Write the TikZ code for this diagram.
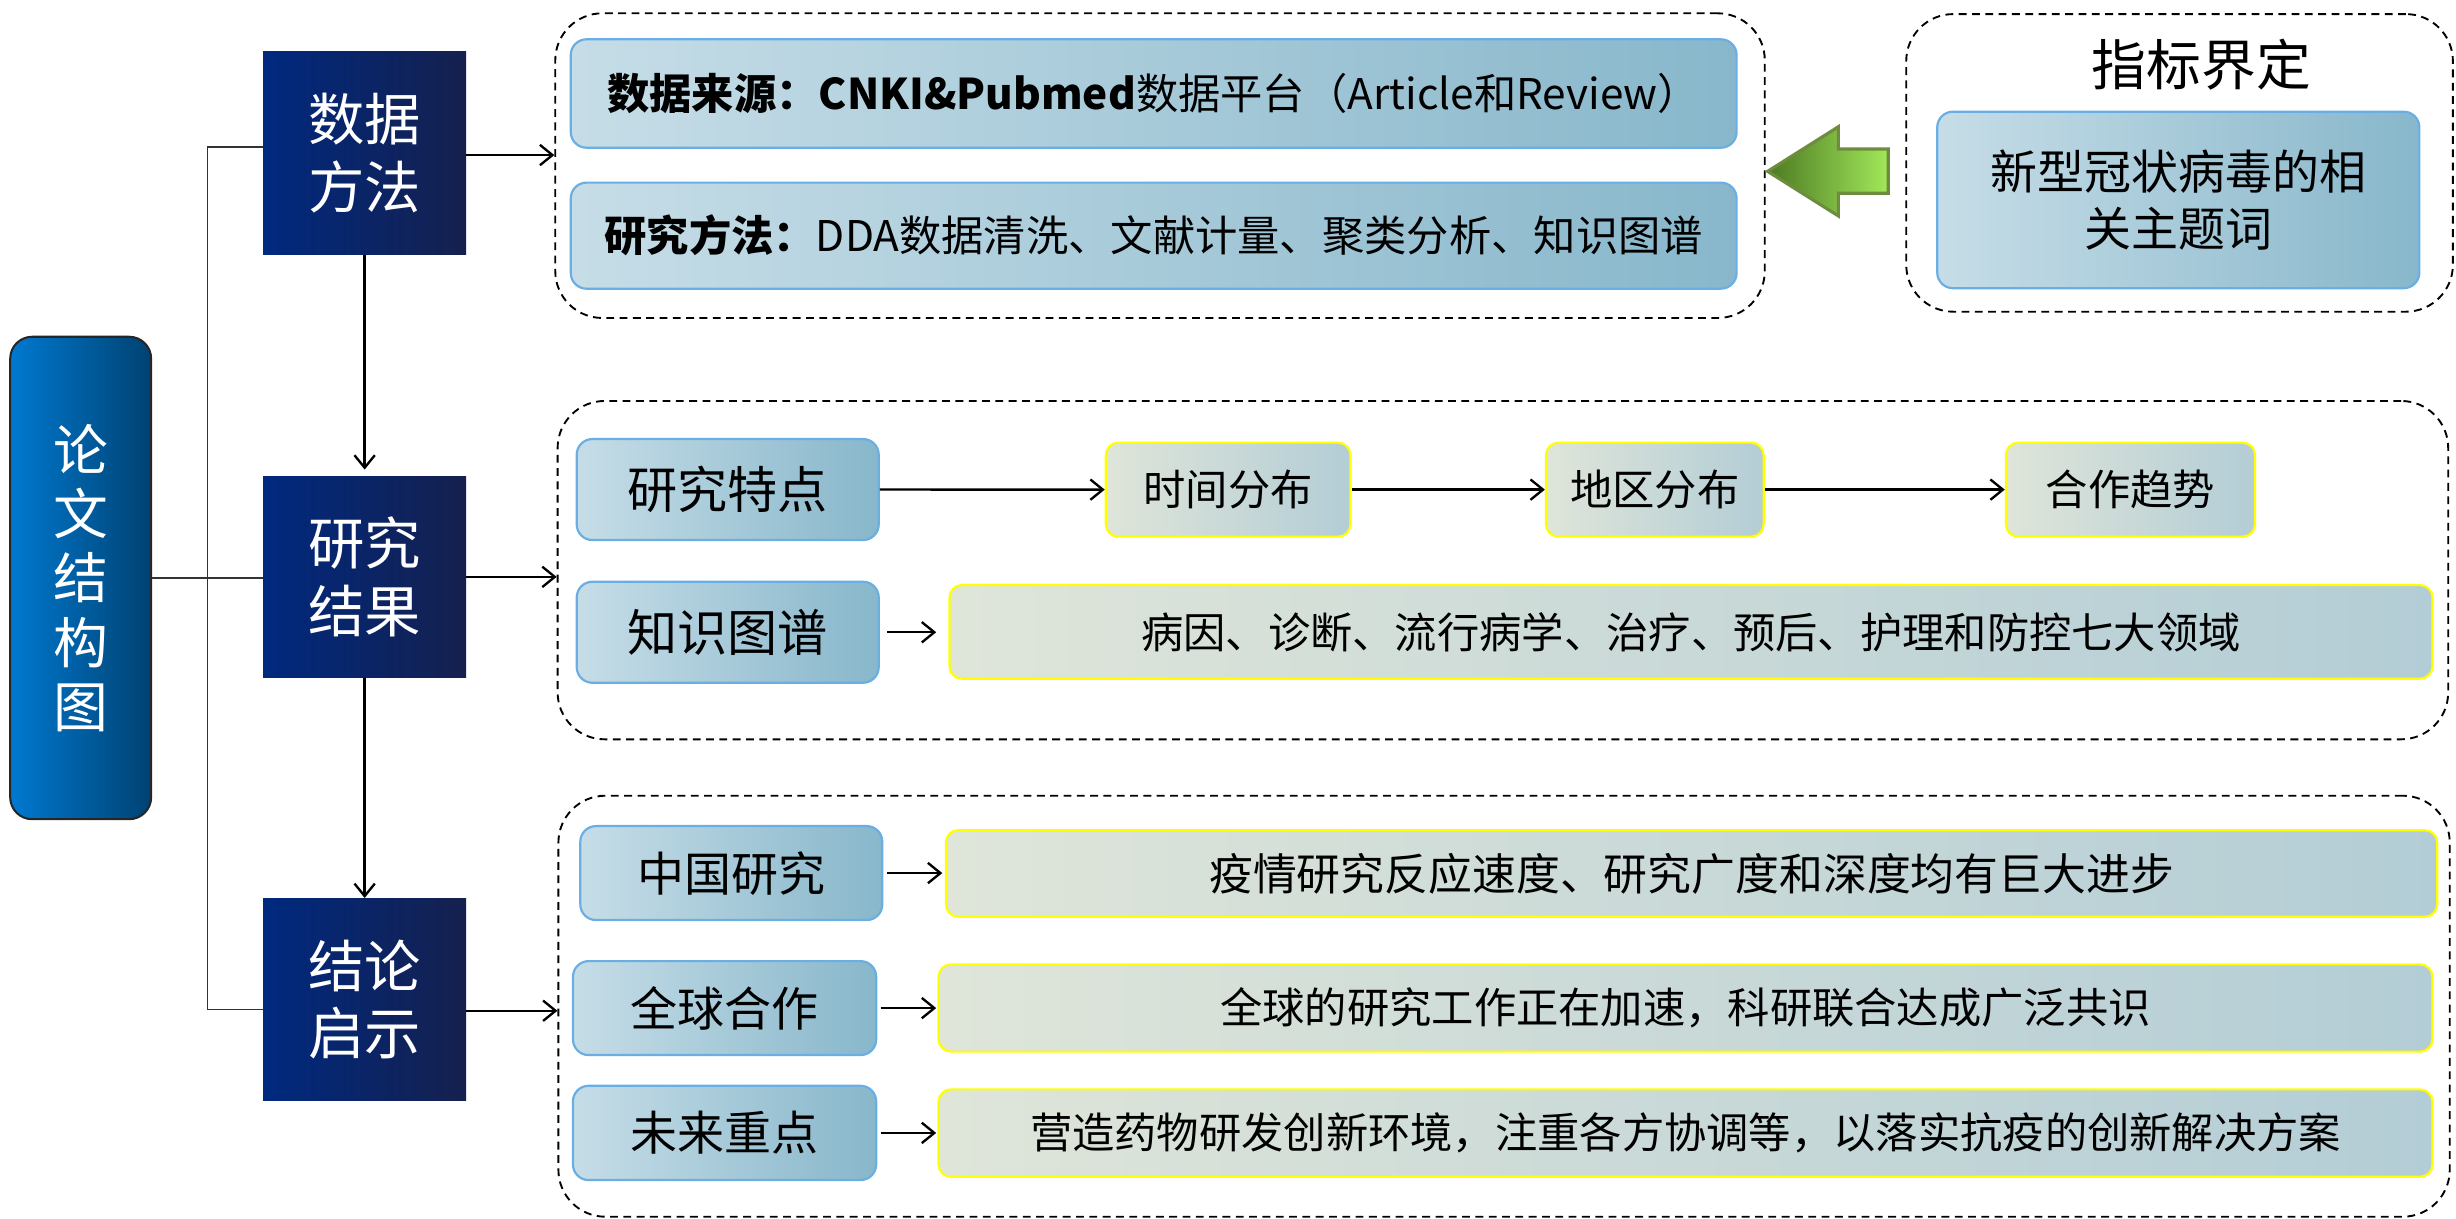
\documentclass[tikz,border=0pt]{standalone}
\usepackage{fontspec}
\setmainfont{Noto Sans CJK SC}
\usetikzlibrary{arrows.meta}
\definecolor{dkL}{HTML}{00297F}
\definecolor{dkR}{HTML}{15204E}
\definecolor{lbL}{HTML}{0079D0}
\definecolor{lbR}{HTML}{004272}
\definecolor{ltL}{HTML}{C6DDE7}
\definecolor{ltR}{HTML}{88B7CB}
\definecolor{ltBorder}{HTML}{6AAEE4}
\definecolor{ywL}{HTML}{DFE5D9}
\definecolor{ywR}{HTML}{B3CDD6}
\definecolor{ywBorder}{HTML}{FFFF00}
\definecolor{grL}{HTML}{4C7A22}
\definecolor{grR}{HTML}{A2E85A}
\definecolor{grBorder}{HTML}{6E8C3E}
\tikzset{
  fsz/.style={font=\fontsize{#1}{#1}\selectfont},
  darkbox/.style={draw=none, left color=dkL, right color=dkR, text=white, align=center,
    inner sep=0pt, font=\fontsize{36}{43}\selectfont},
  leftbox/.style={draw=black!85, line width=1.3pt, rounded corners=14pt, left color=lbL, right color=lbR,
    text=white, align=center, inner sep=0pt, font=\fontsize{35}{41}\selectfont},
  ltbox/.style={draw=ltBorder, line width=1.4pt, rounded corners=10pt, left color=ltL, right color=ltR,
    text=black, align=center, inner sep=0pt},
  ywbox/.style={draw=ywBorder, line width=1.4pt, rounded corners=8pt, left color=ywL, right color=ywR,
    text=black, align=center, inner sep=0pt},
  grpbox/.style={draw=black, line width=1.2pt, dash pattern=on 5pt off 3.5pt, rounded corners=30pt,
    fill=none, inner sep=0pt},
  conn/.style={line width=1.5pt, draw=black, -{Straight Barb[length=8pt,width=13pt,line width=1.5pt]}},
  thinconn/.style={line width=1pt, draw=black!80},
  sz/.style 2 args={minimum width=#1pt, minimum height=#2pt},
}
\begin{document}
\begin{tikzpicture}[x=1pt,y=-1pt]
\useasboundingbox (0,0) rectangle (1568,778);
% groups
\node[grpbox, sz={772.2}{194.5}] (g1) at (740.6,105.75) {};
\node[grpbox, sz={349}{190}] (g2) at (1391.5,104) {};
\node[grpbox, sz={1207}{216}] (g3) at (959.5,364) {};
\node[grpbox, sz={1207.5}{268.8}] (g4) at (960.25,642.4) {};
% left column
\node[leftbox, sz={90}{308}] (lb) at (51.5,369) {论\\文\\结\\构\\图};
\node[darkbox, sz={129.6}{129.5}] (dm) at (232.8,97.75) {数据\\方法};
\node[darkbox, sz={129.6}{128.6}] (jg) at (232.8,368.3) {研究\\结果};
\node[darkbox, sz={129.6}{129.2}] (jl) at (232.8,638.1) {结论\\启示};
\coordinate (bus) at (132.5,0);
% left connectors
\draw[thinconn] (lb.east) -- (lb.east -| jg.west);
\draw[thinconn] ([yshift=3.75pt]dm.west) -- ([yshift=3.75pt]dm.west -| bus) -- ([yshift=-6.4pt]jl.west -| bus) -- ([yshift=-6.4pt]jl.west);
\draw[conn, shorten >=4pt] (dm.south) -- (jg.north);
\draw[conn] (jg.south) -- (jl.north);
\draw[conn] ([yshift=-1.25pt]dm.east) -- ([yshift=-1.25pt]dm.east -| g1.west);
\draw[conn] (jg.east) -- (jg.east -| g3.west);
\draw[conn] ([yshift=-7.2pt]jl.east) -- ([yshift=-7.2pt]jl.east -| g4.west);
% group 1
\node[ltbox, sz={744.3}{69.2}, fsz=27] (s1) at (736.55,59.7)
  {\textbf{数据来源：CNKI\&Pubmed}数据平台（Article和Review）};
\node[ltbox, sz={744.3}{67.7}, fsz=27] (s2) at (736.55,150.45)
  {\textbf{研究方法：}DDA数据清洗、文献计量、聚类分析、知识图谱};
% group 2
\node[fsz=35, inner sep=0pt] (tt) at (1405.5,41.5) {指标界定};
\node[ltbox, sz={307.8}{112.7}, font=\fontsize{30}{36}\selectfont] (kw) at (1390.7,127.65)
  {新型冠状病毒的相\\关主题词};
% green block arrow
\draw[draw=grBorder, line width=2pt, left color=grL, right color=grR, line join=miter]
  (1128.5,109.4) -- (1173.7,80.9) -- (1173.7,95.1) -- (1205.5,95.1) -- (1205.5,123.4)
  -- (1173.7,123.4) -- (1173.7,137.9) -- cycle;
% group 3
\node[ltbox, sz={192.8}{64.5}, fsz=32] (tz) at (464.6,312.55) {研究特点};
\node[ywbox, sz={156.2}{60}, fsz=27] (sj) at (784.1,312.6) {时间分布};
\node[ywbox, sz={139}{60}, fsz=27] (dq) at (1056.5,312.6) {地区分布};
\node[ywbox, sz={159.1}{60}, fsz=27] (hz) at (1360.15,312.6) {合作趋势};
\node[ltbox, sz={192.8}{64.5}, fsz=32] (zs) at (464.6,403.65) {知识图谱};
\node[ywbox, sz={946.8}{59.8}, fsz=27] (ly) at (1079.6,403.4) {病因、诊断、流行病学、治疗、预后、护理和防控七大领域};
\draw[conn] (tz.east) -- (sj.west);
\draw[conn] (sj.east) -- (dq.west);
\draw[conn] (dq.east) -- (hz.west);
\draw[conn, shorten <=4.7pt, shorten >=7.8pt] (zs.east) -- (zs.east -| ly.west);
% group 4
\node[ltbox, sz={192.8}{60}, fsz=30] (zg) at (466.9,557.4) {中国研究};
\node[ywbox, sz={952.1}{55.3}, fsz=28] (l1) at (1079.95,557.65) {疫情研究反应速度、研究广度和深度均有巨大进步};
\node[ltbox, sz={193.6}{60}, fsz=30] (qq) at (462.6,643.6) {全球合作};
\node[ywbox, sz={953.8}{55.7}, fsz=27] (l2) at (1076.1,643.55) {全球的研究工作正在加速，科研联合达成广泛共识};
\node[ltbox, sz={193.6}{60.2}, fsz=30] (wl) at (462.6,723.3) {未来重点};
\node[ywbox, sz={953.8}{55.8}, fsz=27] (l3) at (1076.1,723.4) {营造药物研发创新环境，注重各方协调等，以落实抗疫的创新解决方案};
\draw[conn, shorten <=2.4pt, shorten >=1.6pt] (zg.east) -- (zg.east -| l1.west);
\draw[conn, shorten <=2.2pt, shorten >=0.8pt] (qq.east) -- (qq.east -| l2.west);
\draw[conn, shorten <=2.2pt, shorten >=0.8pt] (wl.east) -- (wl.east -| l3.west);
\end{tikzpicture}
\end{document}
